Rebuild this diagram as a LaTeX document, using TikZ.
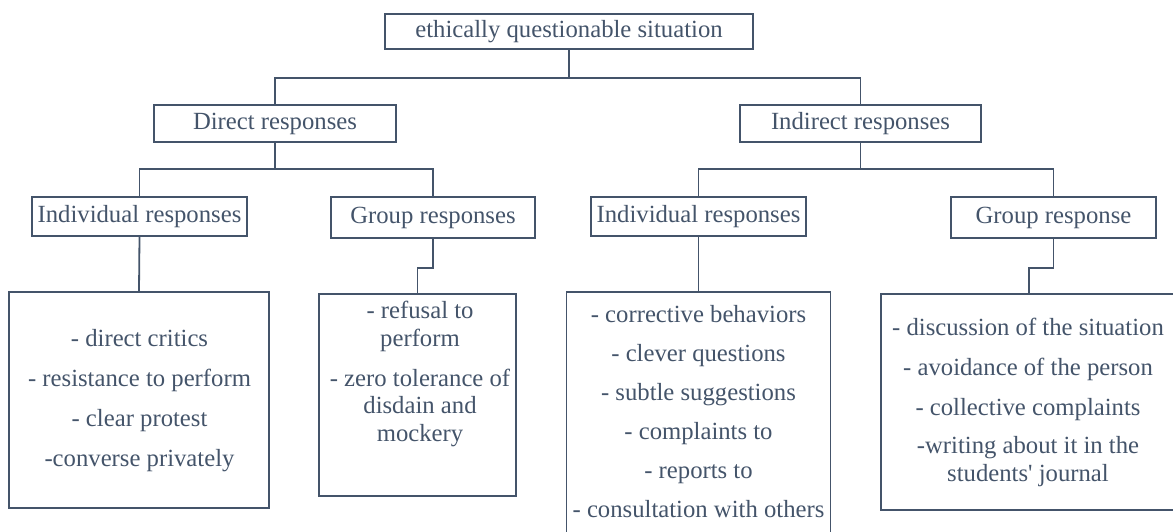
\documentclass[tikz,border=0pt]{standalone}
\usepackage{fontspec}
\newfontfamily\tnr{Liberation Serif}[Ligatures=TeXOff]
\definecolor{ink}{HTML}{44546A}
\newcommand{\nl}[1]{\begin{tabular}{@{}c@{}}#1\end{tabular}}
\tikzset{
  box/.style={draw=ink, line width=1.8pt, inner sep=0pt, text=ink, font=\fontsize{24.7}{27.5}\tnr},
  lbl/.style={text=ink, inner sep=0pt, font=\fontsize{24.7}{27.5}\tnr},
  conn/.style={draw=ink, line width=1.8pt}
}
\begin{document}
\begin{tikzpicture}[x=1pt,y=-1pt]
\useasboundingbox (0,0) rectangle (1173,532);
% level 1
\node[box, minimum width=368pt, minimum height=35pt] (top) at (569,31.5) {ethically questionable situation};
% level 2
\node[box, minimum width=242pt, minimum height=37pt] (direct) at (275,123.5) {Direct responses};
\node[box, minimum width=241pt, minimum height=37pt] (indirect) at (860.5,123.5) {Indirect responses};
% level 3
\node[box, minimum width=215pt, minimum height=39pt] (indA) at (139.5,216.5) {Individual responses};
\node[box, minimum width=204pt, minimum height=41pt] (grpA) at (433,217.5) {Group responses};
\node[box, minimum width=215pt, minimum height=39pt] (indB) at (698.5,216.5) {Individual responses};
\node[box, minimum width=205pt, minimum height=41pt] (grpB) at (1053.5,217.5) {Group response};
% level 4 boxes
\node[box, minimum width=260pt, minimum height=216pt] (boxA) at (139,400) {};
\node[box, minimum width=197pt, minimum height=202pt] (boxB) at (417.5,395) {};
\node[box, minimum width=264pt, minimum height=260pt] (boxC) at (698.5,422) {};
\node[box, minimum width=296pt, minimum height=216pt] (boxD) at (1029,402) {};
% level 4 texts
\node[lbl] (tA) at (139.5,401) {\nl{- direct critics\\[12.5pt] - resistance to perform\\[12.5pt] - clear protest\\[12.5pt] -converse privately}};
\node[lbl] (tB) at (420,374.5) {\nl{- refusal to\\ perform\\[12.5pt] - zero tolerance of\\ disdain and\\ mockery}};
\node[lbl] (tC) at (698.5,414.5) {\nl{- corrective behaviors\\[11.5pt] - clever questions\\[11.5pt] - subtle suggestions\\[11.5pt] - complaints to\\[11.5pt] - reports to\\[11.5pt] - consultation with others}};
\node[lbl] (tD) at (1028,402.5) {\nl{- discussion of the situation\\[12.5pt] - avoidance of the person\\[12.5pt] - collective complaints\\[11pt] -writing about it in the\\ students' journal}};
% connectors
\draw[conn] (top.south) -- ++(0,28) -| (direct.north);
\draw[conn] (top.south) -- ++(0,28) -| (indirect.north);
\draw[conn] (direct.south) -- ++(0,26) -| (indA.north);
\draw[conn] (direct.south) -- ++(0,26) -| (grpA.north);
\draw[conn] (indirect.south) -- ++(0,26) -| (indB.north);
\draw[conn] (indirect.south) -- ++(0,26) -| (grpB.north);
\draw[conn] (indA.south) -- (boxA.north);
\draw[conn] (grpA.south) -- ++(0,29) -| (boxB.north);
\draw[conn] (indB.south) -- (boxC.north);
\draw[conn] (grpB.south) -- ++(0,29) -| (boxD.north);
\end{tikzpicture}
\end{document}
